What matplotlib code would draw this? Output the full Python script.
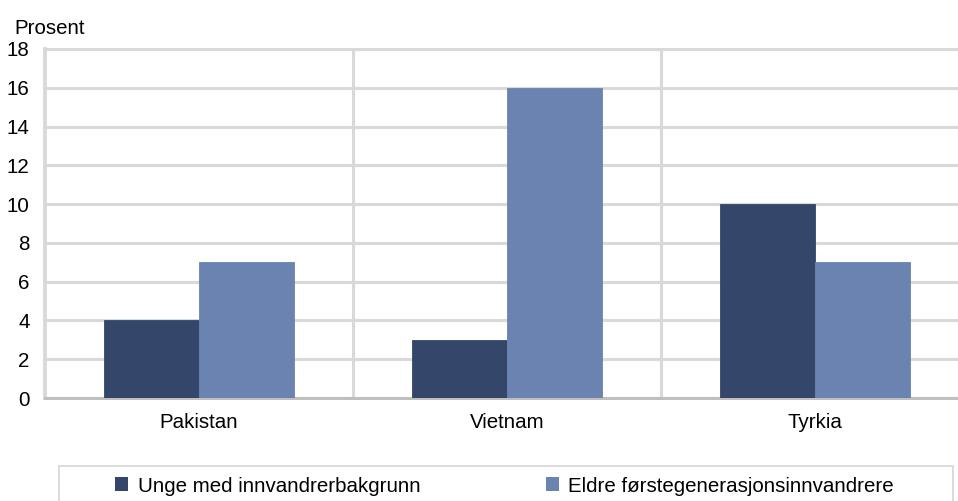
import matplotlib
matplotlib.use("Agg")
import matplotlib.pyplot as plt
from matplotlib.patches import Rectangle, Patch
import numpy as np

plt.rcParams['font.family'] = ['Liberation Sans', 'DejaVu Sans']

# data
countries = ["Pakistan", "Vietnam", "Tyrkia"]
unge = [4, 3, 10]
eldre = [7, 16, 7]
series_names = ["Unge med innvandrerbakgrunn", "Eldre førstegenerasjonsinnvandrere"]
yticks = list(range(0, 19, 2))

dark = "#34466a"
light = "#6a83b0"
grid = "#d9d9d9"
fs = 14.8

W, H = 958, 501
fig = plt.figure(figsize=(W / 100, H / 100), dpi=100)
# plot area runs a bit past the right edge in the original
ax = fig.add_axes([45 / W, 1 - 398 / H, (969 - 45) / W, (398 - 49) / H])

x = np.arange(len(countries))
bw = 0.308
ax.bar(x - bw / 2, unge, bw, color=dark, edgecolor=dark, linewidth=0.6, zorder=3)
ax.bar(x + bw / 2, eldre, bw, color=light, edgecolor=light, linewidth=0.6, zorder=3)

ax.set_xlim(-0.5, len(countries) - 0.5)
ax.set_ylim(0, 18)
ax.set_yticks(yticks)
ax.set_xticks(x)
ax.set_xticklabels(countries)
ax.tick_params(length=0, labelsize=fs, colors="black")
ax.tick_params(axis="y", pad=11)
ax.tick_params(axis="x", pad=11)

ax.yaxis.grid(True, color=grid, linewidth=2.2, zorder=0)
for b in x[:-1] + 0.5:
    ax.axvline(b, color=grid, linewidth=2.2, zorder=0)
ax.set_axisbelow(True)

ax.spines["right"].set_visible(False)
ax.spines["top"].set_color(grid)
ax.spines["top"].set_linewidth(2.2)
ax.spines["left"].set_color(grid)
ax.spines["left"].set_linewidth(2.8)
ax.spines["bottom"].set_color("#bfbfbf")
ax.spines["bottom"].set_linewidth(2.2)

fig.text(14 / W, 1 - 34 / H, "Prosent", fontsize=fs, va="baseline", ha="left")

# legend box
fig.add_artist(Rectangle((59 / W, -0.05), (953 - 59) / W, 0.05 + 1 - 466 / H,
                         transform=fig.transFigure, facecolor="white",
                         edgecolor=grid, linewidth=1.3))
handles = [Patch(facecolor=dark), Patch(facecolor=light)]
fig.legend(handles, series_names, loc="center left", ncol=2, frameon=False,
           bbox_to_anchor=(115 / W, 1 - 486 / H), fontsize=fs,
           handlelength=0.65, handleheight=0.65, handletextpad=0.45,
           columnspacing=6.1, borderpad=0, borderaxespad=0)

fig.savefig("out.png", dpi=100)
